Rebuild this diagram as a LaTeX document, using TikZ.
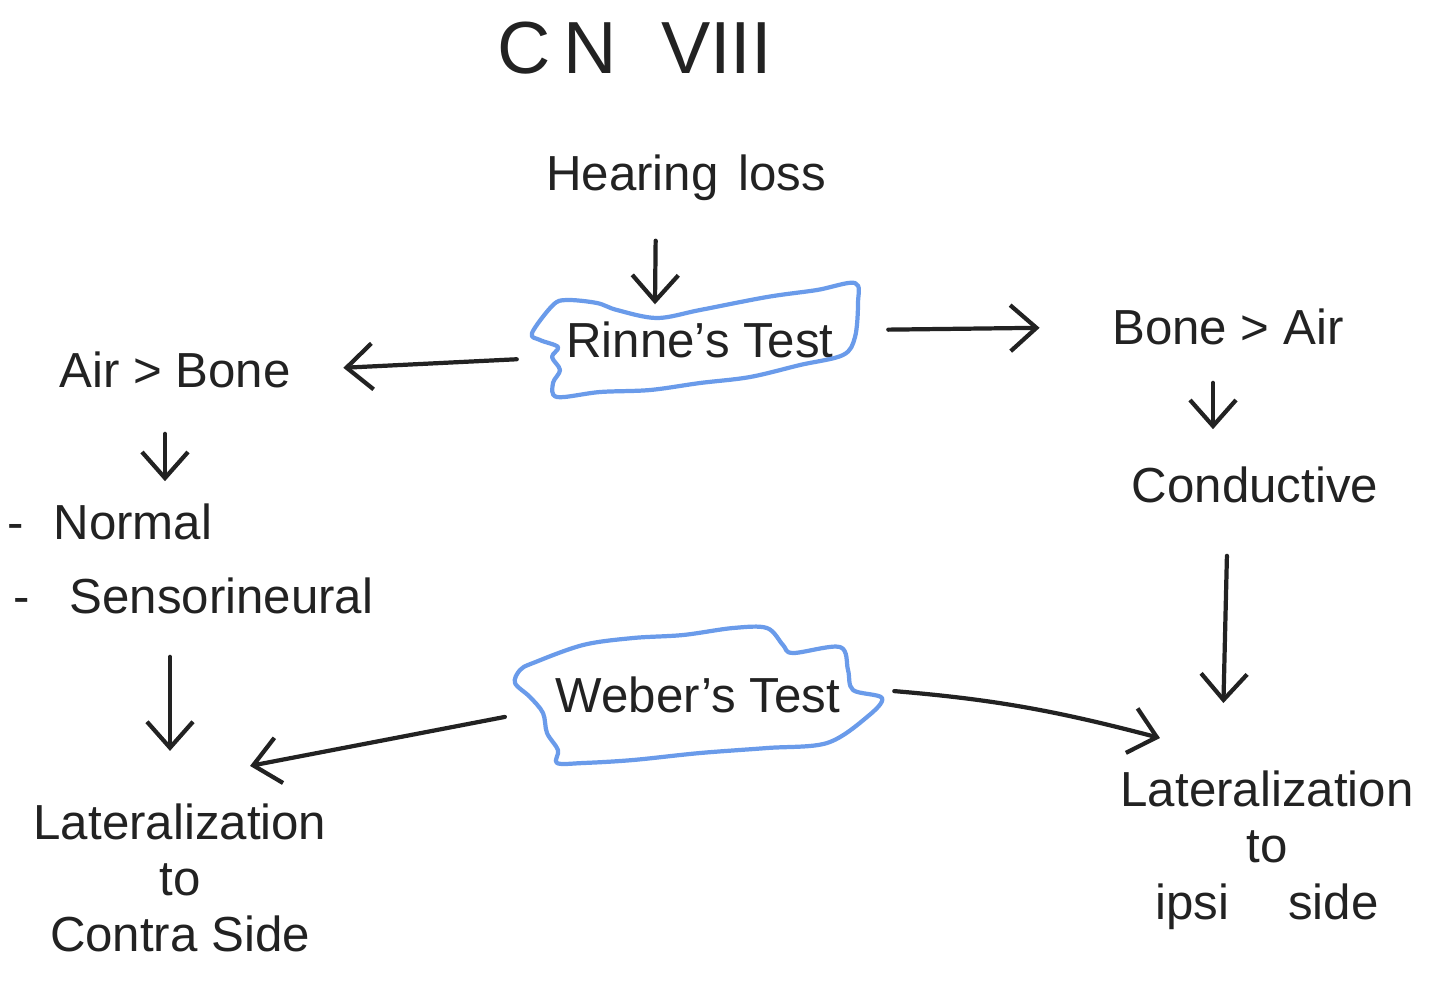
\documentclass[tikz,border=0pt]{standalone}
\usepackage{fontspec}
\setmainfont{Liberation Sans}
\usetikzlibrary{arrows.meta,positioning}
\definecolor{penblue}{HTML}{6A9BEA}
\definecolor{penink}{HTML}{222222}
\tikzset{
  lbl/.style={font=\fontsize{14}{16}\selectfont, align=center, inner sep=2pt, text=penink},
  testbox/.style={lbl, minimum width=3.15cm, minimum height=1cm, inner sep=0pt},
  ar/.style={-{Straight Barb[length=2.6mm,width=4.6mm]}, draw=penink, line width=1.2pt, line cap=round},
  cloudline/.style={draw=penblue, line width=1.2pt, line join=round},
}

\begin{document}
\begin{tikzpicture}[x=0.01cm,y=-0.01cm]
  \useasboundingbox (0,0) rectangle (1440,996);
  % headings
  \node[lbl, font=\fontsize{21}{25}\selectfont] (title) at (635,48) {C\,N\hspace{0.6em}VIII};
  \node[lbl] (hear) at (686,178) {Hearing\hspace{0.4em}loss};
  % the two tests
  \node[testbox] (rinne) at (700,340) {Rinne's Test};
  \node[testbox, minimum width=3.65cm, minimum height=1.3cm] (weber) at (698,695) {Weber's Test};
  % left branch
  \node[lbl] (agtb) at (175,370) {Air > Bone};
  \node[lbl, anchor=west] (norm) at (0,522) {-\hspace{0.6em}Normal};
  \node[lbl, anchor=west] (sens) at (6,596) {-\hspace{0.8em}Sensorineural};
  \node[lbl] (latL) at (180,878) {Lateralization\\to\\Contra Side};
  % right branch
  \node[lbl] (bgta) at (1228,327) {Bone > Air};
  \node[lbl] (cond) at (1255,485) {Conductive};
  \node[lbl] (latR) at (1267,850) {Lateralization\\to\\ipsi\hspace{1.2em}side};

  % blue outlines
  \draw[cloudline] plot[smooth cycle, tension=0.55] coordinates {
    (532,333) (553,305) (567,300) (597,303) (617,310) (657,318) (700,310)
    (767,297) (817,290) (855,283) (858,303) (855,337) (843,355) (800,365)
    (750,377) (700,383) (650,390) (600,392) (557,397) (553,383) (560,370)
    (552,357) (558,347) (540,340)};
  \draw[cloudline] plot[smooth cycle, tension=0.55] coordinates {
    (515,683) (520,670) (533,663) (583,645) (633,638) (683,635) (733,628)
    (767,628) (783,645) (793,653) (840,647) (848,670) (853,690) (882,698)
    (867,717) (827,743) (767,748) (700,753) (633,760) (583,763) (557,763)
    (558,750) (547,733) (543,713) (530,697)};

  % connectors
  \draw[ar, shorten <=3.2mm] ([xshift=-3mm]hear.south) -- ([xshift=-4.5mm,yshift=-1.5mm]rinne.north);
  \draw[ar, shorten <=3mm, shorten >=6.5mm] ([yshift=1mm]rinne.east) -- (bgta.west);
  \draw[ar, shorten <=2.5mm, shorten >=4.5mm] ([yshift=-1.8mm]rinne.west) -- (agtb.east);
  \draw[ar, shorten <=3.8mm, shorten >=1.5mm] ([xshift=-1mm]agtb.south) -- ([xshift=-1mm]agtb.south |- norm.north);
  \draw[ar, shorten <=3.5mm, shorten >=4.5mm] ([xshift=-1mm]latL.north |- sens.south) -- ([xshift=-1mm]latL.north);
  \draw[ar, shorten <=3mm, shorten >=3mm] ([xshift=-1.5mm]bgta.south) -- ([xshift=-1.5mm]bgta.south |- cond.north);
  \draw[ar, shorten <=4.5mm, shorten >=6mm] ([xshift=-2.7mm]cond.south) -- ([xshift=-4.5mm]latR.north);
  \draw[ar, shorten <=1mm] ([yshift=-2mm]weber.west) -- ([xshift=7mm,yshift=3mm]latL.north);
  \draw[ar, shorten <=1.3mm] ([yshift=0.5mm]weber.east) to[bend left=5] ([xshift=-10.7mm,yshift=2.5mm]latR.north);
\end{tikzpicture}
\end{document}
